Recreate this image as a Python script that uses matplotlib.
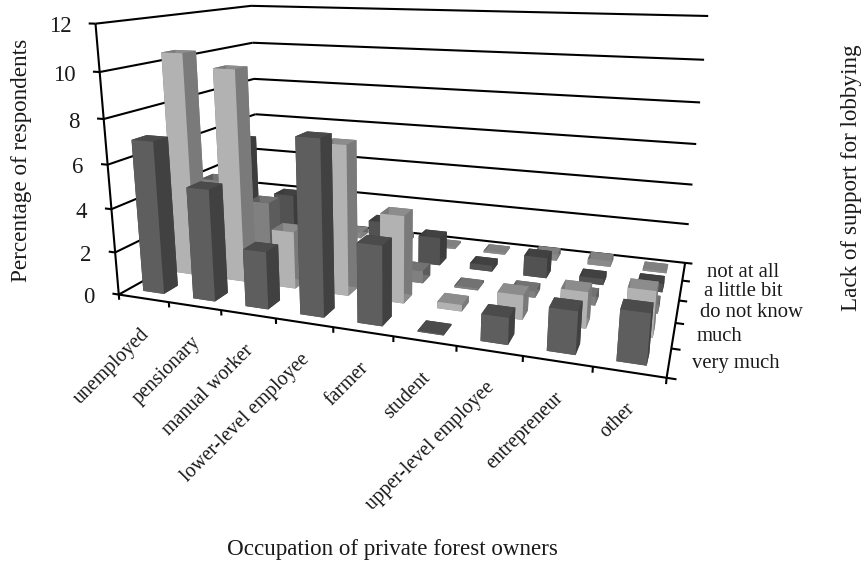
import numpy as np
import matplotlib
matplotlib.use("Agg")
import matplotlib.pyplot as plt
from mpl_toolkits.mplot3d.art3d import Line3DCollection

plt.rcParams["font.family"] = ["Liberation Serif", "DejaVu Serif"]

occupations = ["unemployed", "pensionary", "manual worker", "lower-level employee",
               "farmer", "student", "upper-level employee", "entrepreneur", "other"]
support_levels = ["very much", "much", "do not know", "a little bit", "not at all"]
z_ticks = [0, 2, 4, 6, 8, 10, 12]

very_much = [7.0, 5.1, 2.6, 7.7, 3.5, 0.05, 1.15, 1.8, 2.1]
much = [10.5, 9.9, 2.7, 6.9, 4.0, 0.3, 1.1, 1.6, 2.0]
do_not_know = [4.0, 3.1, 2.0, 0.1, 0.6, 0.1, 0.3, 0.4, 0.4]
little_bit = [5.5, 2.8, 2.0, 1.9, 1.4, 0.3, 1.0, 0.3, 0.4]
not_at_all = [1.2, 1.0, 0.3, 0.3, 0.1, 0.1, 0.3, 0.3, 0.1]
series = [very_much, much, do_not_know, little_bit, not_at_all]

# front, top and right face of the bars in each row
front_cols = ["#5e5e5e", "#b2b2b2", "#808080", "#525252", "#8a8a8a"]
top_cols = ["#4b4b4b", "#8c8c8c", "#727272", "#414141", "#808080"]
right_cols = ["#414141", "#7a7a7a", "#5c5c5c", "#3c3c3c", "#666666"]

W, H = 864, 562
BAR = 0.42

# (x, y, z) on the chart box -> pixel, used to solve the camera
camera_points = [
    ((0, 0, 0), (119, 294)), ((0, 0, 6), (107, 164)), ((0, 0, 12), (96, 24)),
    ((0, 5, 0), (260, 216)), ((0, 5, 6), (255, 114)), ((0, 5, 12), (251, 6)),
    ((9, 5, 0), (685, 263)), ((9, 5, 6), (697, 144)), ((9, 5, 12), (708, 16)),
    ((9, 0, 0), (666, 377)), ((5, 0, 0), (393, 338)), ((3, 0, 0), (276, 319)),
    ((9, 2, 0), (677, 322)), ((9, 4, 0), (681, 281)),
]


def solve_camera(points):
    rows = []
    for (x, y, z), (u, v) in points:
        rows.append([x, y, z, 1, 0, 0, 0, 0, -u * x, -u * y, -u * z, -u])
        rows.append([0, 0, 0, 0, x, y, z, 1, -v * x, -v * y, -v * z, -v])
    p = np.linalg.svd(np.array(rows, float))[2][-1].reshape(3, 4)
    return p / p[2, 3]


P = solve_camera(camera_points)


def to_pixel(x, y, z):
    u, v, w = P @ np.array([x, y, z, 1.0])
    return u / w, v / w


fig = plt.figure(figsize=(W / 100, H / 100), dpi=100)
# square axes as wide as the figure, so the view limits map linearly to pixels
side = W / H
ax = fig.add_axes([0, (1 - side) / 2, 1, side], projection="3d", computed_zorder=False)
ax.set_axis_off()

x0, x1 = ax.viewLim.intervalx
y0, y1 = ax.viewLim.intervaly
ax_top = H + (W - H) / 2
sx = (x1 - x0) / W
sy = (y1 - y0) / W
M = np.vstack([
    sx * P[0] + x0 * P[2],
    -sy * P[1] + (y0 + ax_top * sy) * P[2],
    [-0.05, 1.0, -0.001, 0.0],
    P[2],
])
ax.get_proj = lambda: M

n_x, n_y = len(occupations), len(support_levels)

segments = []
# walls and floor
for z in z_ticks:
    segments.append([(0, 0, z), (0, n_y, z)])
    segments.append([(0, n_y, z), (n_x, n_y, z)])
segments.append([(0, 0, 0), (0, 0, 12)])
segments.append([(0, 0, 0), (n_x, 0, 0)])
segments.append([(n_x, 0, 0), (n_x, n_y, 0)])

# tick marks
for z in z_ticks:
    segments.append([(-0.13, 0, z), (0, 0, z)])
for i in range(n_x + 1):
    segments.append([(i, 0, 0), (i, 0, -0.25)])
for j in range(n_y + 1):
    segments.append([(n_x, j, 0), (n_x + 0.13, j, 0)])

ax.add_collection3d(Line3DCollection(segments, colors="black", linewidths=1.5, zorder=1))

# back row first, left to right
order = 10
for j in reversed(range(n_y)):
    for i in range(n_x):
        ax.bar3d(i + (1 - BAR) / 2, j + (1 - BAR) / 2, 0, BAR, BAR, series[j][i],
                 color=[top_cols[j], top_cols[j], front_cols[j], right_cols[j],
                        right_cols[j], right_cols[j]],
                 shade=False, linewidth=0, zorder=order)
        order += 1


def label(px, py, s, **kw):
    fig.text(px / W, 1 - py / H, s, color="#1a1a1a", **kw)


for z in z_ticks:
    u, v = to_pixel(0, 0, z)
    label(u - 24, v + 3, str(z), fontsize=16.5, ha="right", va="center")

for i, name in enumerate(occupations):
    u, v = to_pixel(i + 0.5, 0, 0)
    label(u - 4, v + 27, name, fontsize=14.3, rotation=45, rotation_mode="anchor",
          ha="right", va="top")

for j, name in enumerate(support_levels):
    u, v = to_pixel(n_x, j + 0.5, 0)
    label(u + 23, v + 1, name, fontsize=14.9, ha="left", va="center")

label(22, 160, "Percentage of respondents", fontsize=16.7, rotation=90, ha="center", va="center")
label(852, 178, "Lack of support for lobbying", fontsize=16.7, rotation=90, ha="center", va="center")
label(392, 550, "Occupation of private forest owners", fontsize=16.6, ha="center", va="center")

fig.savefig("out.png", dpi=100)
